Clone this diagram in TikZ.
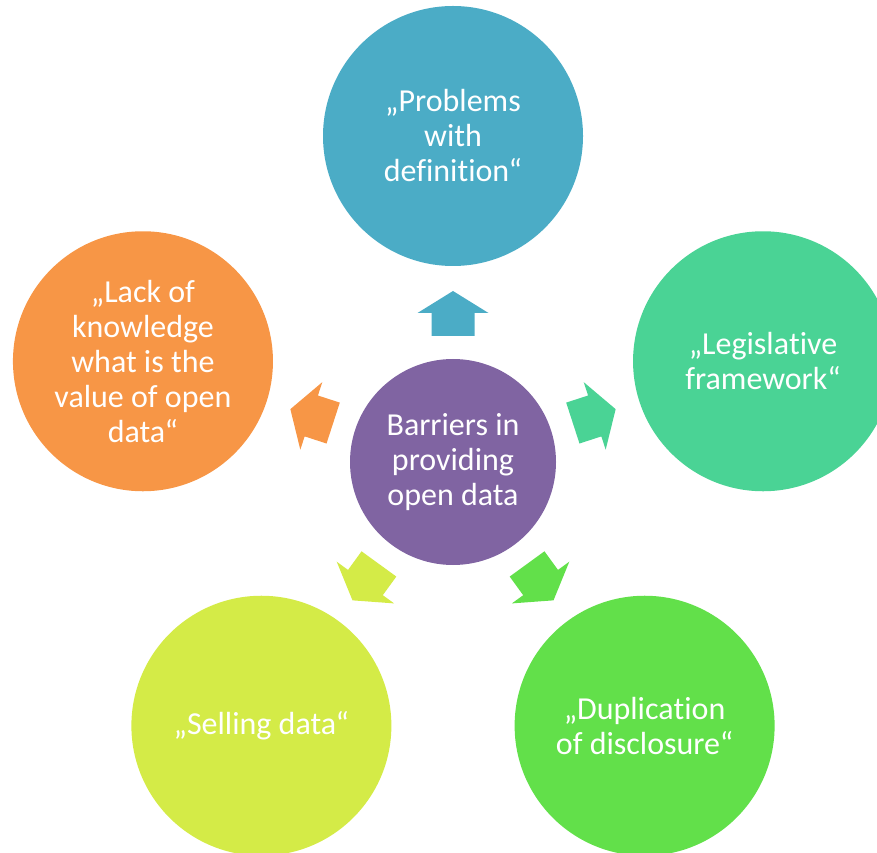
\documentclass[tikz,border=0pt]{standalone}
\usepackage{fontspec}
\setmainfont[Ligatures={NoCommon}]{Carlito}
\usetikzlibrary{calc}
\newcommand{\nolig}{\kern0pt }
\definecolor{cTop}{HTML}{4BACC6}
\definecolor{cRight}{HTML}{4AD395}
\definecolor{cBR}{HTML}{62E04A}
\definecolor{cBL}{HTML}{D4EB47}
\definecolor{cLeft}{HTML}{F79646}
\definecolor{cCenter}{HTML}{8064A2}
\tikzset{
  bubble/.style={circle, minimum size=260pt, inner sep=0pt, text=white, align=center,
    font=\fontsize{32}{35}\selectfont},
  hub/.style={bubble, minimum size=206pt, fill=cCenter},
  pics/blockarrow/.style={code={
    \fill[#1] (126pt,-21.5pt) -- (149pt,-21.5pt) -- (149pt,-35.5pt) -- (171pt,0pt)
      -- (149pt,35.5pt) -- (149pt,21.5pt) -- (126pt,21.5pt) -- cycle;}}
}
\begin{document}
\begin{tikzpicture}[x=1pt,y=1pt]
\useasboundingbox (0,0) rectangle (877,852);
\clip (0,0) rectangle (877,852);
\coordinate (c) at (453,390);
\node[hub] (hub) at (c) {Barriers in\\providing\\open data};
\node[bubble, fill=cTop] (top) at ($(c)+(90:326pt)$) {„Problems\\with\\def\nolig ini\nolig t\nolig ion“};
\node[bubble, fill=cRight] (right) at ($(c)+(18:326pt)$) {„Legisla\nolig t\nolig ive\\framework“};
\node[bubble, fill=cBR] (br) at ($(c)+(306:326pt)$) {„Duplica\nolig t\nolig ion\\of disclosure“};
\node[bubble, fill=cBL] (bl) at ($(c)+(234:326pt)$) {„Selling data“};
\node[bubble, fill=cLeft] (left) at ($(c)+(162:326pt)$) {„Lack of\\knowledge\\what is the\\value of open\\data“};
\pic[rotate=90] at (c) {blockarrow=cTop};
\pic[rotate=18] at (c) {blockarrow=cRight};
\pic[rotate=306] at (c) {blockarrow=cBR};
\pic[rotate=234] at (c) {blockarrow=cBL};
\pic[rotate=162] at (c) {blockarrow=cLeft};
\end{tikzpicture}
\end{document}
